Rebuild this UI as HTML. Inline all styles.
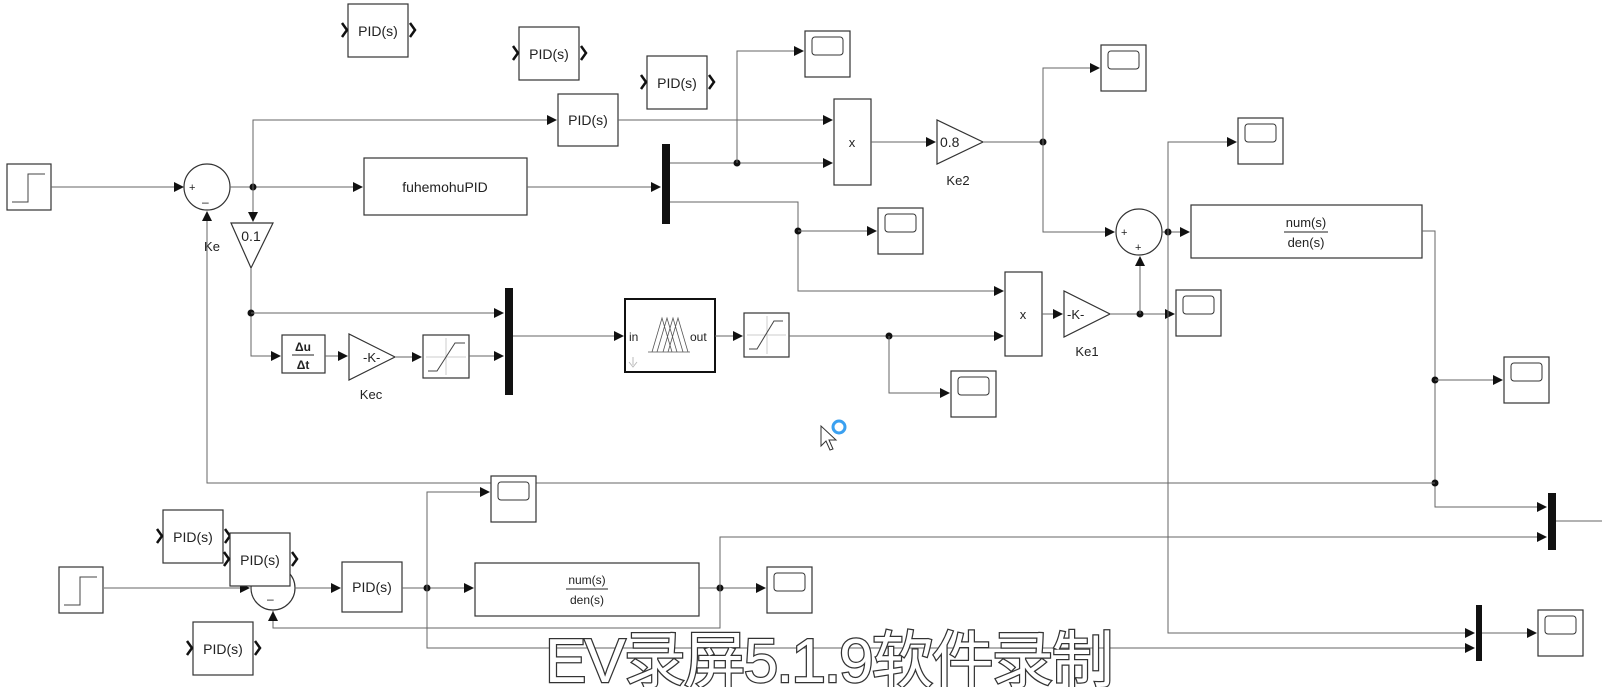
<!DOCTYPE html>
<html><head><meta charset="utf-8"><style>
html,body{margin:0;padding:0;background:#fff;width:1602px;height:687px;overflow:hidden}
svg{display:block}
text{font-family:"Liberation Sans",sans-serif;fill:#222}
.b{fill:#fff;stroke:#333;stroke-width:1.2}
.l{fill:none;stroke:#666;stroke-width:1}
.s{fill:none;stroke:#444;stroke-width:1}
</style></head><body>
<svg width="1602" height="687" viewBox="0 0 1602 687" xmlns="http://www.w3.org/2000/svg">
<defs>
<marker id="a" markerWidth="10" markerHeight="10" refX="9" refY="5" orient="auto" markerUnits="userSpaceOnUse"><path d="M0,0 L10,5 L0,10 z" fill="#111"/></marker>
<filter id="sh"><feDropShadow dx="1" dy="1" stdDeviation="0.6" flood-color="#888" flood-opacity="0.6"/></filter>
<g id="scope"><rect x="0" y="0" width="45" height="46" class="b"/><rect x="7" y="6" width="31" height="18" rx="3" fill="#fff" stroke="#333"/></g>
<g id="step"><rect x="0" y="0" width="44" height="46" class="b"/><path d="M5,38 H21 V10 H38" class="s"/></g>
<g id="pid"><rect x="0" y="0" width="60" height="53" class="b"/><text x="30" y="32" font-size="14" text-anchor="middle">PID(s)</text><path d="M-6,19 L-1,26 L-6,33" fill="none" stroke="#111" stroke-width="2.5"/><path d="M62,19 L67,26 L62,33" fill="none" stroke="#111" stroke-width="2.5"/></g>
</defs>

<!-- floating PIDs -->
<use href="#pid" x="348" y="4"/>
<use href="#pid" x="519" y="27"/>
<use href="#pid" x="647" y="56"/>
<use href="#pid" x="163" y="510"/>

<!-- top step & sum -->
<use href="#step" x="7" y="164"/>
<path d="M51,187 H183" class="l" marker-end="url(#a)"/>
<circle cx="207" cy="187" r="23" class="b"/>
<text x="189" y="191" font-size="11">+</text><text x="202" y="206" font-size="12">–</text>
<text x="212" y="251" font-size="13" text-anchor="middle">Ke</text>
<path d="M230,187 H362" class="l" marker-end="url(#a)"/>
<circle cx="253" cy="187" r="3.5" fill="#111"/>
<path d="M253,187 V120 H556" class="l" marker-end="url(#a)"/>
<rect x="558" y="94" width="60" height="52" class="b"/><text x="588" y="125" font-size="14" text-anchor="middle">PID(s)</text>
<rect x="364" y="158" width="163" height="57" class="b"/><text x="445" y="192" font-size="14" text-anchor="middle">fuhemohuPID</text>
<path d="M253,187 V221" class="l" marker-end="url(#a)"/>
<polygon points="231,223 273,223 251,268" class="b"/><text x="251" y="241" font-size="14" text-anchor="middle">0.1</text>
<path d="M251,268 V356 H280" class="l" marker-end="url(#a)"/>
<circle cx="251" cy="313" r="3.5" fill="#111"/>
<path d="M251,313 H503" class="l" marker-end="url(#a)"/>
<rect x="282" y="335" width="43" height="38" class="b"/>
<text x="303" y="351" font-size="12" text-anchor="middle" font-family="Liberation Serif" font-weight="bold">Δu</text>
<line x1="292" y1="355" x2="314" y2="355" stroke="#222"/>
<text x="303" y="369" font-size="12" text-anchor="middle" font-family="Liberation Serif" font-weight="bold">Δt</text>
<path d="M325,356 H347" class="l" marker-end="url(#a)"/>
<polygon points="349,334 349,380 395,357" class="b"/><text x="363" y="362" font-size="13">-K-</text>
<text x="371" y="399" font-size="13" text-anchor="middle">Kec</text>
<path d="M395,357 H421" class="l" marker-end="url(#a)"/>
<rect x="423" y="335" width="46" height="43" class="b"/>
<path d="M426,357 H466 M446,338 V375" stroke="#ccc" fill="none"/><path d="M428,371 H437 L455,343 H465" class="s"/>
<path d="M469,356 H503" class="l" marker-end="url(#a)"/>
<rect x="505" y="288" width="8" height="107" fill="#111"/>
<path d="M513,336 H623" class="l" marker-end="url(#a)"/>
<rect x="625" y="299" width="90" height="73" fill="#fff" stroke="#111" stroke-width="2"/>
<text x="629" y="341" font-size="12">in</text><text x="690" y="341" font-size="12">out</text>
<path d="M648,352 H690 M652,352 L662,318 L672,352 M657,352 L667,318 L677,352 M663,352 L673,318 L683,352 M668,352 L678,318 L688,352" stroke="#555" fill="none" stroke-width="0.8"/>
<path d="M633,357 V365 M629,362 L633,367 L637,362" stroke="#bbb" fill="none"/>
<path d="M715,336 H742" class="l" marker-end="url(#a)"/>
<rect x="744" y="313" width="45" height="44" class="b"/>
<path d="M747,335 H786 M767,316 V354" stroke="#ccc" fill="none"/><path d="M749,349 H757 L774,321 H783" class="s"/>
<path d="M789,336 H1003" class="l" marker-end="url(#a)"/>
<circle cx="889" cy="336" r="3.5" fill="#111"/>
<path d="M889,336 V393 H949" class="l" marker-end="url(#a)"/>
<use href="#scope" x="951" y="371"/>

<!-- mux1 -->
<path d="M527,187 H660" class="l" marker-end="url(#a)"/>
<rect x="662" y="144" width="8" height="80" fill="#111"/>
<path d="M670,163 H832" class="l" marker-end="url(#a)"/>
<circle cx="737" cy="163" r="3.5" fill="#111"/>
<path d="M737,163 V51 H803" class="l" marker-end="url(#a)"/>
<use href="#scope" x="805" y="31"/>
<path d="M618,120 H832" class="l" marker-end="url(#a)"/>
<rect x="834" y="99" width="37" height="86" class="b"/><text x="852" y="147" font-size="13" text-anchor="middle">x</text>
<path d="M670,202 H798 V291 H1003" class="l" marker-end="url(#a)"/>
<circle cx="798" cy="231" r="3.5" fill="#111"/>
<path d="M798,231 H876" class="l" marker-end="url(#a)"/>
<use href="#scope" x="878" y="208"/>
<path d="M871,142 H935" class="l" marker-end="url(#a)"/>
<polygon points="937,120 937,164 983,142" class="b"/><text x="940" y="147" font-size="14">0.8</text>
<text x="958" y="185" font-size="13" text-anchor="middle">Ke2</text>
<path d="M983,142 H1043" class="l"/>
<circle cx="1043" cy="142" r="3.5" fill="#111"/>
<path d="M1043,142 V68 H1099" class="l" marker-end="url(#a)"/>
<use href="#scope" x="1101" y="45"/>
<path d="M1043,142 V232 H1114" class="l" marker-end="url(#a)"/>
<circle cx="1139" cy="232" r="23" class="b"/>
<text x="1121" y="236" font-size="11">+</text><text x="1135" y="251" font-size="11">+</text>
<rect x="1005" y="272" width="37" height="84" class="b"/><text x="1023" y="319" font-size="13" text-anchor="middle">x</text>
<path d="M1042,314 H1062" class="l" marker-end="url(#a)"/>
<polygon points="1064,291 1064,337 1110,314" class="b"/><text x="1067" y="319" font-size="13">-K-</text>
<text x="1087" y="356" font-size="13" text-anchor="middle">Ke1</text>
<path d="M1110,314 H1174" class="l" marker-end="url(#a)"/>
<circle cx="1140" cy="314" r="3.5" fill="#111"/>
<path d="M1140,314 V257" class="l" marker-end="url(#a)"/>
<use href="#scope" x="1176" y="290"/>
<path d="M1162,232 H1189" class="l" marker-end="url(#a)"/>
<circle cx="1168" cy="232" r="3.5" fill="#111"/>
<path d="M1168,232 V142 H1236" class="l" marker-end="url(#a)"/>
<use href="#scope" x="1238" y="118"/>
<path d="M1168,232 V633 H1474" class="l" marker-end="url(#a)"/>
<rect x="1191" y="205" width="231" height="53" class="b"/>
<text x="1306" y="227" font-size="13" text-anchor="middle" font-family="Liberation Serif">num(s)</text>
<line x1="1284" y1="232" x2="1328" y2="232" stroke="#222"/>
<text x="1306" y="247" font-size="13" text-anchor="middle" font-family="Liberation Serif">den(s)</text>
<path d="M1422,231 H1435 V507 H1546" class="l" marker-end="url(#a)"/>
<circle cx="1435" cy="380" r="3.5" fill="#111"/>
<path d="M1435,380 H1502" class="l" marker-end="url(#a)"/>
<use href="#scope" x="1504" y="357"/>
<circle cx="1435" cy="483" r="3.5" fill="#111"/>
<path d="M1435,483 H207 V212" class="l" marker-end="url(#a)"/>
<rect x="1548" y="493" width="8" height="57" fill="#111"/>
<path d="M1556,521 H1602" class="l"/>

<!-- bottom loop -->
<use href="#step" x="59" y="567"/>
<path d="M104,588 H249" class="l" marker-end="url(#a)"/>
<circle cx="273" cy="588" r="22" class="b"/>
<text x="267" y="603" font-size="12">–</text>
<use href="#pid" x="230" y="533"/>
<path d="M295,588 H340" class="l" marker-end="url(#a)"/>
<rect x="342" y="562" width="60" height="50" class="b"/><text x="372" y="592" font-size="14" text-anchor="middle">PID(s)</text>
<path d="M402,588 H473" class="l" marker-end="url(#a)"/>
<circle cx="427" cy="588" r="3.5" fill="#111"/>
<path d="M427,588 V492 H489" class="l" marker-end="url(#a)"/>
<use href="#scope" x="491" y="476"/>
<path d="M427,588 V648 H1474" class="l" marker-end="url(#a)"/>
<rect x="475" y="563" width="224" height="53" class="b"/>
<text x="587" y="584" font-size="12" text-anchor="middle" font-family="Liberation Serif">num(s)</text>
<line x1="566" y1="589" x2="608" y2="589" stroke="#222"/>
<text x="587" y="604" font-size="12" text-anchor="middle" font-family="Liberation Serif">den(s)</text>
<path d="M699,588 H765" class="l" marker-end="url(#a)"/>
<circle cx="720" cy="588" r="3.5" fill="#111"/>
<use href="#scope" x="767" y="567"/>
<path d="M720,588 V537 H1546" class="l" marker-end="url(#a)"/>
<path d="M273,610 V628 H720 V588" class="l"/>
<path d="M273,628 V612" class="l" marker-end="url(#a)"/>
<use href="#pid" x="193" y="622"/>
<rect x="1476" y="605" width="6" height="56" fill="#111"/>
<path d="M1482,633 H1536" class="l" marker-end="url(#a)"/>
<use href="#scope" x="1538" y="610"/>

<!-- cursor -->
<circle cx="839" cy="427" r="6" fill="none" stroke="#3aa0f0" stroke-width="3"/>
<path d="M821,426 V446 L826,441 L830,450 L833,449 L829,440 L836,440 Z" fill="#fff" stroke="#333" stroke-width="1"/>

<!-- watermark -->
<text x="545" y="682" font-size="62" font-family="'Liberation Sans','Noto Sans CJK SC',sans-serif" style="fill:#fff;stroke:#333;stroke-width:2.5;paint-order:stroke" letter-spacing="-2">EV录屏5.1.9软件录制</text>
</svg>
</body></html>
